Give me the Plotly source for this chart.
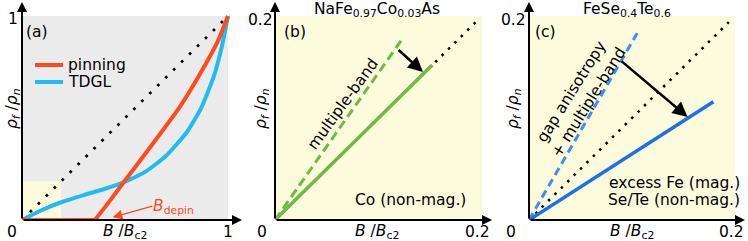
import plotly.graph_objects as go

W, H = 748, 241
FONT = "DejaVu Sans"
FS = 15.5

# ---- data ----
# panel (a)
pin_flat_B = [0, 0.354]
pin_flat_rho = [0, 0]
pin_B = [0.354, 0.42, 0.49, 0.621, 0.767, 0.88, 0.953, 1.0]
pin_rho = [0, 0.085, 0.18, 0.355, 0.556, 0.744, 0.882, 1.0]
tdgl_B = [0, 0.1, 0.19, 0.3, 0.4, 0.49, 0.6, 0.7, 0.8, 0.87, 0.93, 0.97, 1.0]
tdgl_rho = [0, 0.05, 0.087, 0.122, 0.152, 0.183, 0.237, 0.315, 0.43, 0.55, 0.70, 0.85, 1.0]
bs_a_B = [0, 0.975]
bs_a_rho = [0, 0.975]
# panel (b)
bs_b_B = [0, 0.195]
bs_b_rho = [0, 0.195]
co_solid_B = [0, 0.152]
co_solid_rho = [0, 0.152]
co_dash_B = [0, 0.124]
co_dash_rho = [0, 0.179]
# panel (c)
bs_c_B = [0, 0.194]
bs_c_rho = [0, 0.194]
fe_solid_B = [0, 0.179]
fe_solid_rho = [0, 0.116]
fe_dash_B = [0, 0.105]
fe_dash_rho = [0, 0.183]

tick_a = ["0", "1"]
tick_bc = ["0", "0.2"]

RED = "#ff4b1f"
CYAN = "#1ebdf0"
GREEN = "#6fba45"
BLUE = "#1f6fe6"
BLUE_L = "#3f8ff0"
GRAY = "#ebebeb"
YEL = "#fcfcdc"


def px(x):
    return x / W


def py(y):
    return 1 - y / H


fig = go.Figure()

# --- traces (a)
fig.add_trace(go.Scatter(x=bs_a_B, y=bs_a_rho, mode="lines",
                         line=dict(color="black", width=2.7, dash="2.7px,8.5px"),
                         xaxis="x", yaxis="y"))
fig.add_trace(go.Scatter(x=tdgl_B, y=tdgl_rho, mode="lines",
                         line=dict(color=CYAN, width=4, shape="spline", smoothing=0.5),
                         xaxis="x", yaxis="y"))
fig.add_trace(go.Scatter(x=pin_flat_B, y=pin_flat_rho, mode="lines",
                         line=dict(color=RED, width=4), xaxis="x", yaxis="y"))
fig.add_trace(go.Scatter(x=pin_B, y=pin_rho, mode="lines",
                         line=dict(color=RED, width=4, shape="spline", smoothing=0.5),
                         xaxis="x", yaxis="y"))
# --- traces (b)
fig.add_trace(go.Scatter(x=bs_b_B, y=bs_b_rho, mode="lines",
                         line=dict(color="black", width=2.5, dash="2.5px,6.5px"),
                         xaxis="x2", yaxis="y2"))
fig.add_trace(go.Scatter(x=co_dash_B, y=co_dash_rho, mode="lines",
                         line=dict(color=GREEN, width=3, dash="9px,5px"),
                         xaxis="x2", yaxis="y2"))
fig.add_trace(go.Scatter(x=co_solid_B, y=co_solid_rho, mode="lines",
                         line=dict(color=GREEN, width=3.5),
                         xaxis="x2", yaxis="y2"))
# --- traces (c)
fig.add_trace(go.Scatter(x=bs_c_B, y=bs_c_rho, mode="lines",
                         line=dict(color="black", width=2.5, dash="2.5px,6.5px"),
                         xaxis="x3", yaxis="y3"))
fig.add_trace(go.Scatter(x=fe_dash_B, y=fe_dash_rho, mode="lines",
                         line=dict(color=BLUE_L, width=3, dash="8px,5px"),
                         xaxis="x3", yaxis="y3"))
fig.add_trace(go.Scatter(x=fe_solid_B, y=fe_solid_rho, mode="lines",
                         line=dict(color=BLUE, width=3.5),
                         xaxis="x3", yaxis="y3"))

# --- axes: pixel geometry
ydom = [py(220), 1]
ax_common = dict(visible=False, fixedrange=True)
fig.update_layout(
    xaxis=dict(domain=[px(22), px(246)], range=[0, 224 / 206], anchor="y", **ax_common),
    yaxis=dict(domain=ydom, range=[0, 220 / 204], anchor="x", **ax_common),
    xaxis2=dict(domain=[px(275), px(497)], range=[0, 0.2 * 222 / 207], anchor="y2", **ax_common),
    yaxis2=dict(domain=ydom, range=[0, 0.2 * 220 / 204], anchor="x2", **ax_common),
    xaxis3=dict(domain=[px(529), px(748)], range=[0, 0.2 * 219 / 206], anchor="y3", **ax_common),
    yaxis3=dict(domain=ydom, range=[0, 0.2 * 220 / 204], anchor="x3", **ax_common),
)

shapes = [
    dict(type="rect", xref="x", yref="y", x0=0, x1=1, y0=0, y1=1,
         fillcolor=GRAY, line_width=0, layer="below"),
    dict(type="rect", xref="x", yref="y", x0=0, x1=0.19, y0=0, y1=0.19,
         fillcolor=YEL, line_width=0, layer="below"),
    dict(type="rect", xref="x2", yref="y2", x0=0, x1=0.2, y0=0, y1=0.2,
         fillcolor=YEL, line_width=0, layer="below"),
    dict(type="rect", xref="x3", yref="y3", x0=0, x1=0.2, y0=0, y1=0.2,
         fillcolor=YEL, line_width=0, layer="below"),
    # legend keys
    dict(type="line", xref="paper", yref="paper", x0=px(35), x1=px(63), y0=py(65), y1=py(65),
         line=dict(color=RED, width=4)),
    dict(type="line", xref="paper", yref="paper", x0=px(35), x1=px(63), y0=py(82), y1=py(82),
         line=dict(color=CYAN, width=4)),
]

ann = []


def arrow(xr, yr, x0, y0, x1, y1, color="black", width=2, size=1.0):
    ann.append(dict(xref=xr, yref=yr, axref=xr, ayref=yr, x=x1, y=y1, ax=x0, ay=y0,
                    showarrow=True, arrowhead=2, arrowsize=size, arrowwidth=width,
                    arrowcolor=color, text=""))


# axis arrows
arrow("x", "y", 0, 0, 1.068, 0)
arrow("x", "y", 0, 0, 0, 1.069)
arrow("x2", "y2", 0, 0, 0.2097, 0)
arrow("x2", "y2", 0, 0, 0, 0.2137)
arrow("x3", "y3", 0, 0, 0.2097, 0)
arrow("x3", "y3", 0, 0, 0, 0.2137)
# content arrows
arrow("x2", "y2", 0.118, 0.168, 0.143, 0.145, width=2.5, size=1.2)
arrow("x3", "y3", 0.0883, 0.157, 0.154, 0.101, width=2.5, size=1.2)
arrow("x", "y", 0.640, 0.07, 0.44, 0.013, color=RED, width=1.3, size=1.5)


def text(x, y, s, size=FS, color="black", xanchor="center", angle=0, align="center"):
    ann.append(dict(xref="paper", yref="paper", x=px(x), y=py(y), text=s, showarrow=False,
                    xanchor=xanchor, yanchor="middle", textangle=angle, align=align,
                    font=dict(family=FONT, size=size, color=color)))


# tick labels
text(12, 232, tick_a[0])
text(228, 232, tick_a[1])
text(13, 19, tick_a[1])
text(262, 232, tick_bc[0])
text(477, 232, tick_bc[1])
text(260, 20, tick_bc[1])
text(511, 232, tick_bc[0])
text(731, 232, tick_bc[1])
text(513, 20, tick_bc[1])

# axis titles
xlab = "<i>B</i> /<i>B</i><sub>c2</sub>"
ylab = "<i>ρ</i><sub><i>f</i></sub> /<i>ρ</i><sub><i>n</i></sub>"
text(125, 232, xlab)
text(377, 232, xlab)
text(632, 232, xlab)
text(13, 109, ylab, angle=-90)
text(262, 109, ylab, angle=-90)
text(514, 109, ylab, angle=-90)

# panel labels / titles
text(37, 32, "(a)")
text(295, 32, "(b)")
text(545, 32, "(c)")
text(377, 10, "NaFe<sub>0.97</sub>Co<sub>0.03</sub>As")
text(627, 10, "FeSe<sub>0.4</sub>Te<sub>0.6</sub>")

# legend text
text(66, 65, "pinning", xanchor="left")
text(66, 82, "TDGL", xanchor="left")
text(173, 207, "<i>B</i><sub>depin</sub>", color=RED)

# annotations in panels
text(343, 104, "multiple-band", angle=-54)
text(580, 97, "gap anisotropy<br>+ multiple-band", angle=-58)
text(468, 200, "Co (non-mag.)", xanchor="right")
text(742, 183, "excess Fe (mag.)", xanchor="right")
text(742, 200, "Se/Te (non-mag.)", xanchor="right")

fig.update_layout(
    width=W, height=H, margin=dict(l=0, r=0, t=0, b=0),
    paper_bgcolor="white", plot_bgcolor="rgba(0,0,0,0)",
    showlegend=False, shapes=shapes, annotations=ann,
    font=dict(family=FONT, size=FS, color="black"),
)

fig.write_html("out.html", config={"displayModeBar": False},
               post_script="document.body.style.margin='0';document.body.style.padding='0';")
